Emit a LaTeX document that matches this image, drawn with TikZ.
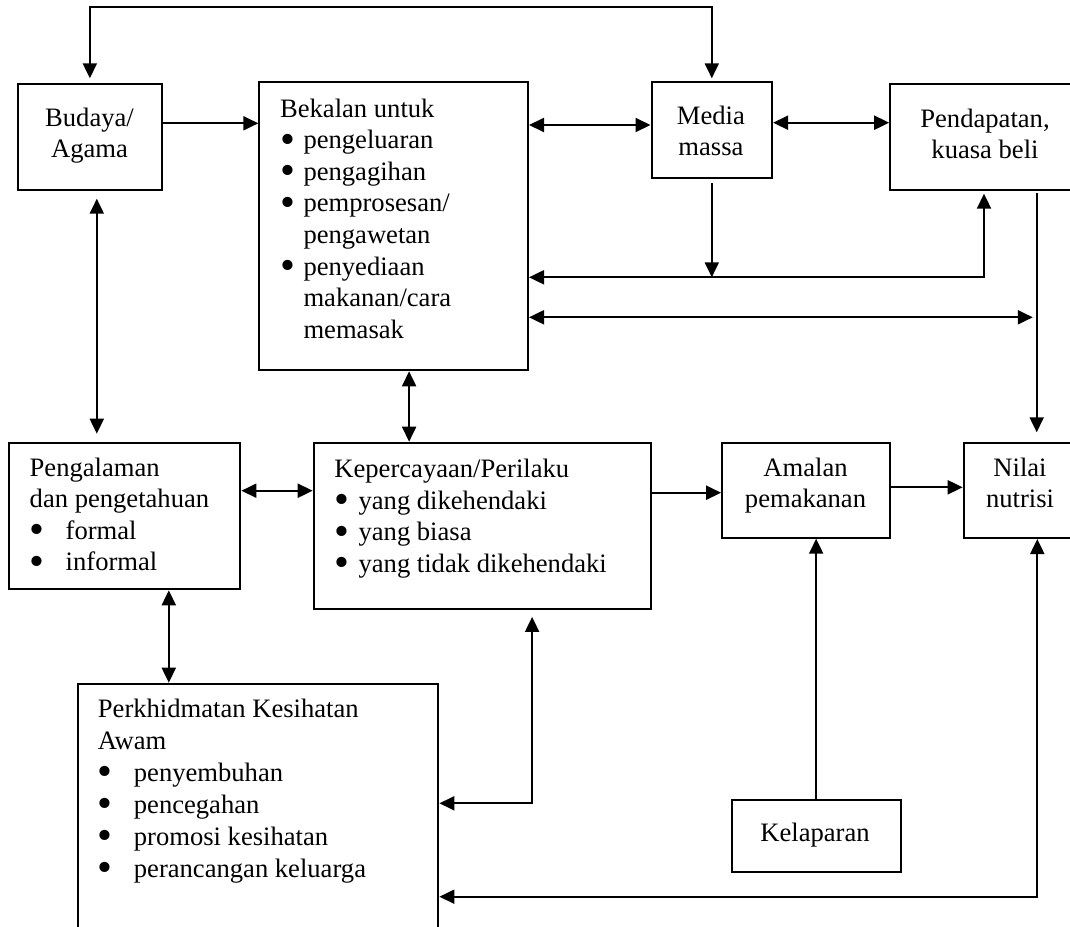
\documentclass[tikz,border=0pt]{standalone}
\usepackage{fontspec}
\usepackage{graphicx}
\setmainfont{Liberation Serif}
\usetikzlibrary{arrows.meta}
\newcommand\bul[1]{\makebox[#1][l]{\smash{\raisebox{-0.17em}{\scalebox{1.6}{\textbullet}}}}}
\newcommand\ind[1]{\hspace*{#1}}
\begin{document}
\begin{tikzpicture}[x=0.5pt,y=-0.5pt,
  box/.style={draw, line width=1pt, inner sep=0pt, anchor=north west},
  ltxt/.style={inner sep=0pt, align=left, anchor=base west, font=\fontsize{13.3}{15.8}\selectfont},
  ctxt/.style={inner sep=0pt, align=center, anchor=base, font=\fontsize{13.3}{15.3}\selectfont},
  con/.style={line width=1pt},
  >={Triangle[length=7.5pt,width=7pt]}]
\useasboundingbox (0,0) rectangle (1070,926);
\clip (0,0) rectangle (1070,926);
% boxes
\node[box, minimum width=72.35pt, minimum height=52.7pt] (budaya) at (16.5,83.3) {};
\node[box, minimum width=134.35pt, minimum height=144.15pt] (bekalan) at (258.3,81) {};
\node[box, minimum width=60.3pt, minimum height=48.3pt] (media) at (650.5,80.7) {};
\node[box, minimum width=100pt, minimum height=52.85pt] (pendapatan) at (889.2,83) {};
\node[box, minimum width=115.55pt, minimum height=73.3pt] (pengalaman) at (8.3,441.7) {};
\node[box, minimum width=168.4pt, minimum height=83.3pt] (kep) at (312.7,441.7) {};
\node[box, minimum width=84.05pt, minimum height=47.5pt] (amalan) at (721.1,441.7) {};
\node[box, minimum width=70pt, minimum height=47.65pt] (nilai) at (962.7,441.7) {};
\node[box, minimum width=180.45pt, minimum height=135pt] (perk) at (76.5,682.7) {};
\node[box, minimum width=84.35pt, minimum height=36pt] (kelaparan) at (730.8,799) {};
% texts (anchored at the baseline of their last line)
\node[ctxt] (tbudaya) at (89.5,157.3) {Budaya/\\Agama};
\node[ltxt] (tbekalan) at (279.7,338.3) {Bekalan untuk\\
\bul{11.7pt}pengeluaran\\
\bul{11.7pt}pengagihan\\
\bul{11.7pt}pemprosesan/\\
\ind{11.7pt}pengawetan\\
\bul{11.7pt}penyediaan\\
\ind{11.7pt}makanan/cara\\
\ind{11.7pt}memasak};
\node[ctxt] (tmedia) at (710.9,155) {Media\\massa};
\node[ctxt] (tpendapatan) at (985,158) {Pendapatan,\\kuasa beli};
\node[ltxt, font=\fontsize{13.3}{15.7}\selectfont] (tpengalaman) at (29.3,570.7) {Pengalaman\\
dan pengetahuan\\
\bul{18pt}formal\\
\bul{18pt}informal};
\node[ltxt] (tkep) at (334,572.3) {Kepercayaan/Perilaku\\
\bul{12.1pt}yang dikehendaki\\
\bul{12.1pt}yang biasa\\
\bul{12.1pt}yang tidak dikehendaki};
\node[ctxt] (tamalan) at (805.5,507.3) {Amalan\\pemakanan};
\node[ctxt] (tnilai) at (1020,507.3) {Nilai\\nutrisi};
\node[ltxt, font=\fontsize{13.3}{16}\selectfont] (tperk) at (97.5,877.3) {Perkhidmatan Kesihatan\\
Awam\\
\bul{18pt}penyembuhan\\
\bul{18pt}pencegahan\\
\bul{18pt}promosi kesihatan\\
\bul{18pt}perancangan keluarga};
\node[ctxt] (tkelaparan) at (815,841.7) {Kelaparan};
% helper coordinates
\coordinate (top) at (400,7.3);
\coordinate (yBB) at (0,123.3);
\coordinate (yBM) at (0,125);
\coordinate (yMP) at (0,122.7);
\coordinate (j1) at (984,277.3);
\coordinate (dEnd) at (1032.8,317.3);
\coordinate (vtop) at (1036.7,193.3);
\coordinate (xBP) at (96.8,0);
\coordinate (xBK) at (409.1,0);
\coordinate (yPK) at (0,490.7);
\coordinate (xPP) at (168.8,0);
\coordinate (yKA) at (0,492.7);
\coordinate (yAN) at (0,487.3);
\coordinate (c1) at (532.1,803.3);
\coordinate (c2) at (1037.3,896.7);
% connectors
\draw[con, <->, shorten <=2.5pt, shorten >=1.2pt] (budaya.north) |- (top) -| (media.north);
\draw[con, ->] (budaya.east |- yBB) -- (bekalan.west |- yBB);
\draw[con, <->] (bekalan.east |- yBM) -- (media.west |- yBM);
\draw[con, <->] (media.east |- yMP) -- (pendapatan.west |- yMP);
\draw[con, ->, shorten <=2pt] (media.south) -- (media.south |- j1);
\draw[con, <->, shorten >=1.5pt] (bekalan.east |- j1) -- (j1) -- (pendapatan.south -| j1);
\draw[con, <->] (bekalan.east |- dEnd) -- (dEnd);
\draw[con, ->, shorten >=4.7pt] (vtop) -- (nilai.north -| vtop);
\draw[con, <->, shorten <=4pt, shorten >=4pt] (budaya.south -| xBP) -- (pengalaman.north -| xBP);
\draw[con, <->] (bekalan.south -| xBK) -- (kep.north -| xBK);
\draw[con, <->] (pengalaman.east |- yPK) -- (kep.west |- yPK);
\draw[con, <->] (pengalaman.south -| xPP) -- (perk.north -| xPP);
\draw[con, ->] (kep.east |- yKA) -- (amalan.west |- yKA);
\draw[con, ->] (amalan.east |- yAN) -- (nilai.west |- yAN);
\draw[con, ->] (kelaparan.north) -- (amalan.south -| kelaparan.north);
\draw[con, <->, shorten >=3.3pt] (perk.east |- c1) -- (c1) -- (kep.south -| c1);
\draw[con, <->] (perk.east |- c2) -- (c2) -- (nilai.south -| c2);
\end{tikzpicture}
\end{document}
